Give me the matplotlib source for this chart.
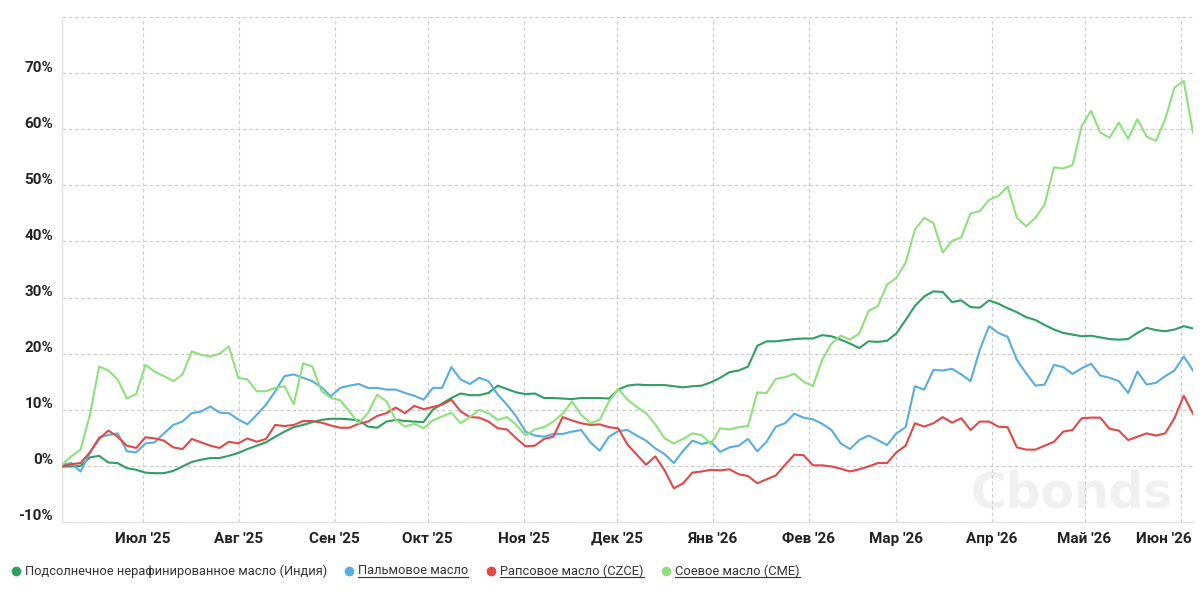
import numpy as np
import pandas as pd
import matplotlib
matplotlib.use("Agg")
import matplotlib.pyplot as plt
from matplotlib.transforms import ScaledTranslation
from matplotlib.lines import Line2D

plt.rcParams['font.family'] = ['Roboto', 'DejaVu Sans']

start_date = "2025-06-05"
end_date = "2026-06-05"

sunflower = [-0.1, -0.1, 0.0, 1.5, 1.8, 0.6, 0.5, -0.4, -0.7, -1.2,
             -1.3, -1.3, -0.9, -0.1, 0.7, 1.1, 1.4, 1.4, 1.8, 2.3,
             3.0, 3.6, 4.2, 5.2, 6.1, 6.9, 7.3, 7.8, 8.2, 8.4,
             8.4, 8.3, 8.1, 7.0, 6.8, 7.9, 8.2, 8.0, 7.9, 7.8,
             10.0, 11.1, 12.1, 12.9, 12.6, 12.6, 13.0, 14.3, 13.7, 13.1,
             12.8, 12.9, 12.1, 12.1, 12.0, 11.9, 12.1, 12.1, 12.1, 12.0,
             13.6,
             14.3, 14.5, 14.4, 14.4, 14.4, 14.2, 14.0, 14.2, 14.3, 14.9,
             15.7, 16.7, 17.0, 17.7, 21.4, 22.2, 22.2, 22.4, 22.6, 22.7,
             22.7, 23.3, 23.1, 22.5, 21.8, 21.0, 22.2, 22.1, 22.3, 23.6,
             26.0, 28.5, 30.2, 31.1, 31.0, 29.2, 29.5, 28.3, 28.2, 29.5,
             28.9, 28.1, 27.4, 26.5, 26.0, 25.1, 24.3, 23.7, 23.4, 23.1,
             23.2, 22.9, 22.6, 22.5, 22.6, 23.7, 24.6, 24.2, 24.0, 24.3,
             24.9, 24.5]

palm = [0.2, 0.5, -1.0, 2.3, 5.1, 5.5, 5.8, 2.6, 2.4, 4.0,
        4.2, 5.8, 7.3, 7.9, 9.4, 9.7, 10.6, 9.5, 9.4, 8.3,
        7.4, 9.1, 10.9, 13.3, 16.0, 16.3, 15.7, 15.1, 14.0, 12.4,
        13.9, 14.3, 14.6, 13.9, 13.9, 13.6, 13.6, 13.0, 12.5, 11.8,
        13.9, 13.9, 17.6, 15.4, 14.6, 15.7, 15.1, 12.7, 10.9, 8.8,
        6.1, 5.4, 5.2, 5.7, 5.7, 6.1, 6.4, 4.2, 2.7, 5.2,
        6.2,
        6.4, 5.4, 4.5, 3.1, 2.1, 0.5, 2.7, 4.5, 3.9, 4.3,
        2.5, 3.3, 3.6, 4.8, 2.6, 4.3, 7.0, 7.6, 9.3, 8.6,
        8.3, 7.5, 6.4, 4.0, 3.0, 4.6, 5.4, 4.6, 3.7, 5.8,
        6.9, 14.2, 13.6, 17.1, 17.0, 17.3, 16.3, 15.1, 20.7, 24.9,
        23.7, 23.0, 18.9, 16.5, 14.3, 14.5, 18.0, 17.6, 16.4, 17.4,
        18.2, 16.1, 15.7, 15.1, 13.0, 16.8, 14.5, 14.8, 16.0, 17.0,
        19.5, 17.0]

rapeseed = [-0.1, 0.3, 0.5, 2.4, 4.8, 6.3, 5.2, 3.6, 3.2, 5.1,
            4.9, 4.5, 3.3, 3.0, 4.8, 4.2, 3.6, 3.2, 4.3, 4.0,
            4.9, 4.3, 4.8, 7.3, 7.1, 7.3, 8.0, 8.0, 7.7, 7.2,
            6.8, 6.8, 7.5, 7.9, 8.9, 9.4, 10.4, 9.4, 10.7, 10.1,
            10.5, 10.9, 11.8, 9.7, 8.7, 8.6, 7.9, 6.7, 6.5, 4.9,
            3.5, 3.6, 4.8, 5.2, 8.7, 8.1, 7.6, 7.3, 7.4, 6.9,
            6.7,
            3.8, 2.0, 0.2, 1.7, -0.8, -4.0, -3.1, -1.2, -1.0, -0.7,
            -0.8, -0.6, -1.5, -1.8, -3.1, -2.4, -1.7, 0.2, 2.0, 1.9,
            0.1, 0.1, -0.1, -0.5, -1.0, -0.6, -0.1, 0.5, 0.5, 2.4,
            3.6, 7.6, 7.0, 7.6, 8.7, 7.7, 8.5, 6.4, 7.9, 7.9,
            7.0, 6.9, 3.3, 2.9, 2.9, 3.6, 4.3, 6.1, 6.4, 8.5,
            8.6, 8.6, 6.6, 6.3, 4.6, 5.2, 5.8, 5.4, 5.8, 8.5,
            12.5, 9.3]

soy = [0.2, 1.7, 2.9, 9.0, 17.7, 17.0, 15.4, 12.0, 12.8, 18.0,
       16.8, 16.0, 15.1, 16.3, 20.4, 19.8, 19.5, 20.0, 21.3, 15.7,
       15.4, 13.3, 13.3, 13.9, 14.2, 11.0, 18.3, 17.7, 13.3, 12.1,
       11.7, 9.7, 7.6, 9.4, 12.7, 11.5, 8.2, 7.0, 7.5, 6.7,
       8.1, 8.8, 9.5, 7.6, 8.7, 10.0, 9.4, 8.2, 8.7, 7.3,
       5.4, 6.5, 6.9, 7.9, 9.3, 11.5, 9.1, 7.6, 8.2, 11.5,
       13.7,
       11.8, 10.5, 9.4, 7.4, 4.9, 4.0, 4.8, 5.8, 5.5, 3.9,
       6.7, 6.5, 6.9, 7.1, 13.1, 13.0, 15.5, 15.8, 16.4, 15.0,
       14.2, 18.9, 21.8, 23.2, 22.5, 23.6, 27.6, 28.5, 32.3, 33.5,
       36.2, 42.1, 44.2, 43.3, 38.0, 40.1, 40.7, 45.0, 45.4, 47.4,
       48.1, 49.8, 44.2, 42.7, 44.2, 46.6, 53.2, 53.0, 53.6, 60.6,
       63.3, 59.4, 58.5, 61.2, 58.3, 61.8, 58.7, 57.9, 61.8, 67.4,
       68.6, 59.4]

series_names = ["Подсолнечное нерафинированное масло (Индия)",
                "Пальмовое масло",
                "Рапсовое масло (CZCE)",
                "Соевое масло (CME)"]
series_underlined = [False, True, True, True]
colors = ["#2f9e62", "#58acdf", "#e04848", "#8fe07c"]

month_labels = ["Июл '25", "Авг '25", "Сен '25", "Окт '25", "Ноя '25", "Дек '25",
                "Янв '26", "Фев '26", "Мар '26", "Апр '26", "Май '26", "Июн '26"]
y_ticks = [-10, 0, 10, 20, 30, 40, 50, 60, 70, 80]

W, H = 1203, 595
fig = plt.figure(figsize=(W / 100, H / 100), dpi=100)
fig.patch.set_facecolor("white")
L, R, T, B = 62, 1193, 17, 522
ax = fig.add_axes([L / W, 1 - B / H, (R - L) / W, (B - T) / H])

# watermark
ax.text(1072 / W, 1 - 494 / H, "Cbonds", transform=fig.transFigure, ha="center", va="center",
        fontsize=35, fontweight="bold", color="#f0f0f0", family="DejaVu Sans", zorder=0)

all_series = [sunflower, palm, rapeseed, soy]
for vals, c in zip(all_series, colors):
    d = pd.date_range(start_date, end_date, periods=len(vals))
    ax.plot(d, vals, color=c, lw=1.5, solid_joinstyle="round", zorder=3)

ax.set_xlim(pd.Timestamp(start_date), pd.Timestamp(end_date))
ax.set_ylim(-10, 80)

month_ticks = pd.date_range("2025-07-01", periods=len(month_labels), freq="MS")
ax.set_xticks(month_ticks)
ax.set_xticklabels(month_labels, fontsize=11, fontweight="bold", color="#222222")
ax.set_yticks(y_ticks)
ax.set_yticklabels([f"{v}%" if v < 80 else "" for v in y_ticks],
                   fontsize=11, fontweight="bold", color="#222222")
ax.tick_params(axis="both", length=0)
ax.tick_params(axis="y", pad=6.5)
ax.tick_params(axis="x", pad=7)

off = ScaledTranslation(0, 7 / 100, fig.dpi_scale_trans)
for lab in ax.get_yticklabels():
    lab.set_transform(lab.get_transform() + off)
last = ax.get_xticklabels()[-1]
last.set_horizontalalignment("right")
last.set_transform(last.get_transform() + ScaledTranslation(0.11, 0, fig.dpi_scale_trans))

ax.grid(True, color="#cccccc", linestyle=(0, (3.2, 2.4)), linewidth=0.8)
ax.set_axisbelow(True)
for s in ["top", "right"]:
    ax.spines[s].set_visible(False)
ax.spines["left"].set_color("#e3e3e3")
ax.spines["bottom"].set_color("#e3e3e3")
ax.spines["left"].set_linewidth(1)
ax.spines["bottom"].set_linewidth(1)

# legend
leg_y = 1 - 571 / H
dot_x = [16, 349, 491, 666]
txt_x = [25, 358, 500, 675]
texts = []
for name, c, dx, tx in zip(series_names, colors, dot_x, txt_x):
    fig.add_artist(Line2D([dx / W], [leg_y], marker="o", markersize=7, color=c,
                          markeredgewidth=0, transform=fig.transFigure))
    t = fig.text(tx / W, leg_y, name, fontsize=9.3, color="#333333", va="center", ha="left")
    texts.append(t)

fig.canvas.draw()
rend = fig.canvas.get_renderer()
for t, u in zip(texts, series_underlined):
    if u:
        bb = t.get_window_extent(rend)
        yb = bb.y0 + 1
        fig.add_artist(Line2D([bb.x0 / W, bb.x1 / W], [yb / H, yb / H], color="#333333",
                              lw=0.8, transform=fig.transFigure))

fig.savefig("out.png", dpi=100, facecolor="white")
